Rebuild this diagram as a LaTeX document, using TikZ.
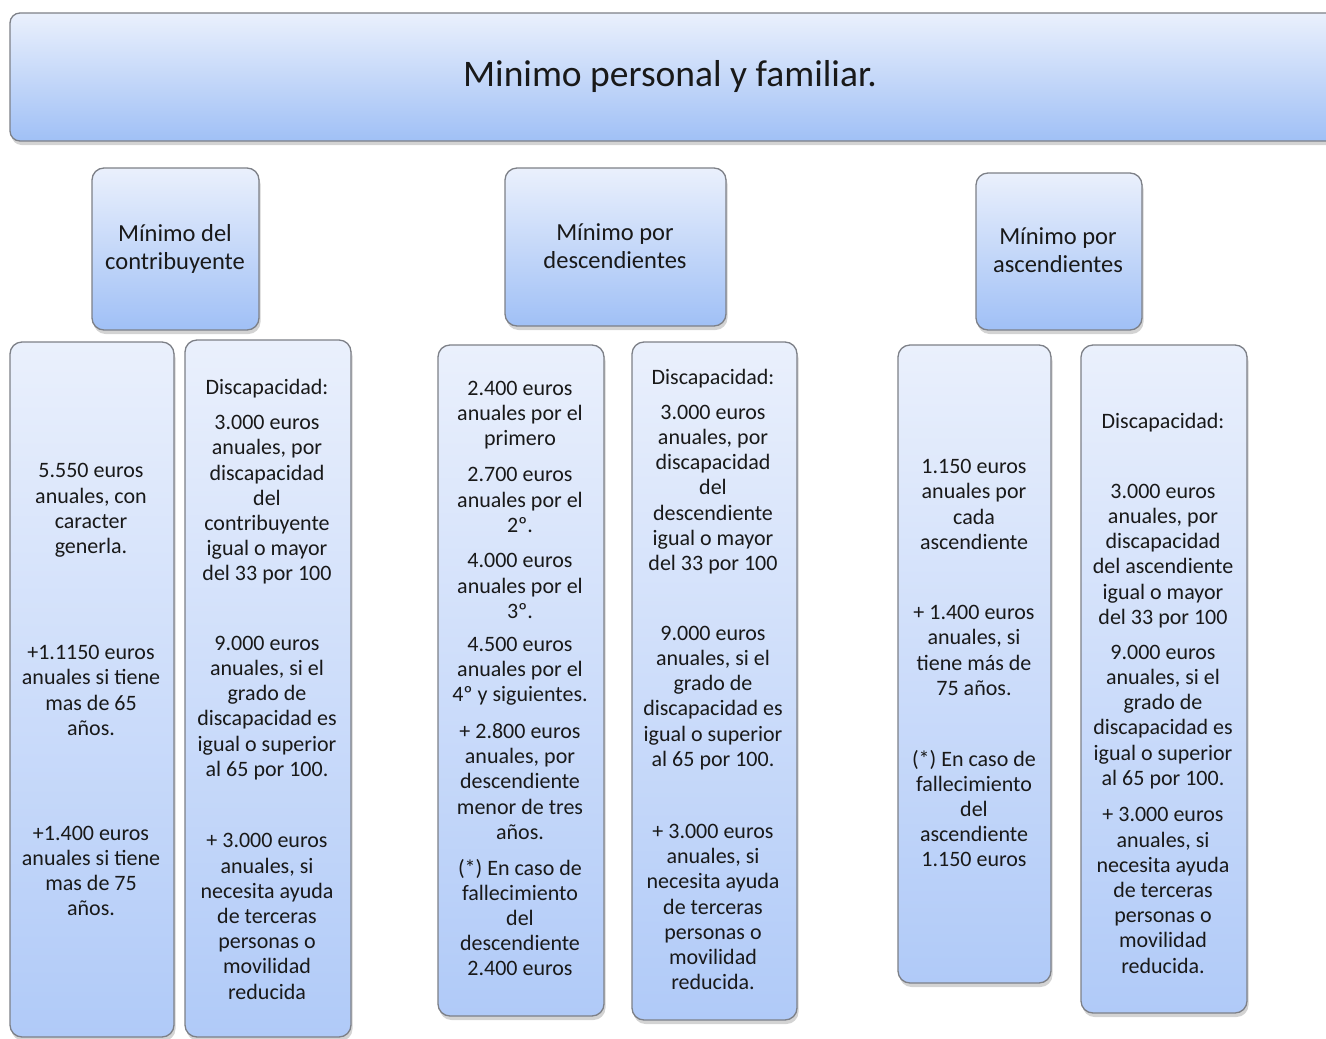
\documentclass[tikz,border=0pt]{standalone}
\usepackage{fontspec}
\setmainfont{Carlito}
\usetikzlibrary{shadows}
\definecolor{boxtop}{RGB}{234,240,252}
\definecolor{boxbot}{RGB}{176,202,248}
\definecolor{hdrbot}{RGB}{160,192,246}
\definecolor{edge}{RGB}{125,128,135}
\definecolor{ink}{RGB}{25,25,25}
\tikzset{
  panel/.style={draw=edge, line width=1.3pt, rounded corners=12pt, top color=boxtop, bottom color=boxbot,
     drop shadow={opacity=0.35, shadow xshift=1.5pt, shadow yshift=-4pt}, inner sep=0pt},
  hdr/.style={panel, bottom color=hdrbot},
  body/.style={text=ink, align=center, inner sep=0pt, font=\fontsize{22}{25.2}\selectfont},
  hdrtxt/.style={text=ink, align=center, inner sep=0pt, font=\fontsize{24.5}{28}\selectfont},
}
\begin{document}
\begin{tikzpicture}[x=1pt,y=-1pt]
\useasboundingbox (0,0) rectangle (1326,1039);
\clip (0,0) rectangle (1326,1039);
% title
\node[hdr, rounded corners=10pt, minimum width=1335, minimum height=128] (title) at (677.5,77) {};
\node[text=ink, font=\fontsize{37.5}{44}\selectfont] (titletxt) at (670,76) {Minimo personal y familiar.};
% headers
\node[hdr, minimum width=167, minimum height=162] (h1) at (175.5,249) {};
\node[hdr, minimum width=221, minimum height=158] (h2) at (615.5,247) {};
\node[hdr, minimum width=166, minimum height=157] (h3) at (1059,251.5) {};
\node[hdrtxt] (h1t) at (175,249) {Mínimo del\\contribuyente};
\node[hdrtxt] (h2t) at (615,246) {Mínimo por\\descendientes};
\node[hdrtxt] (h3t) at (1058,250.5) {Mínimo por\\ascendientes};
% body boxes
\node[panel, minimum width=164, minimum height=695] (b1) at (92,689.5) {};
\node[panel, minimum width=166, minimum height=697] (b2) at (268,688.5) {};
\node[panel, minimum width=166, minimum height=671] (b3) at (521,680.5) {};
\node[panel, minimum width=165, minimum height=678] (b4) at (714.5,681) {};
\node[panel, minimum width=153, minimum height=638] (b5) at (974.5,664) {};
\node[panel, minimum width=166, minimum height=668] (b6) at (1164,679) {};
% box 1
\node[body] (b1p1) at (91,510.5) {5.550 euros\\anuales, con\\caracter\\generla.};
\node[body] (b1p2) at (91,690.5) {+1.1150 euros\\anuales si tiene\\mas de 65\\años.};
\node[body] (b1p3) at (91,871) {+1.400 euros\\anuales si tiene\\mas de 75\\años.};
% box 2
\node[body] (b2p0) at (267,389) {Discapacidad:};
\node[body] (b2p1) at (267,500) {3.000 euros\\anuales, por\\discapacidad\\del\\contribuyente\\igual o mayor\\del 33 por 100};
\node[body] (b2p2) at (267,708) {9.000 euros\\anuales, si el\\grado de\\discapacidad es\\igual o superior\\al 65 por 100.};
\node[body] (b2p3) at (267,916.5) {+ 3.000 euros\\anuales, si\\necesita ayuda\\de terceras\\personas o\\movilidad\\reducida};
% box 3
\node[body] (b3p1) at (520,415) {2.400 euros\\anuales por el\\primero};
\node[body] (b3p2) at (520,500) {2.700 euros\\anuales por el\\2º.};
\node[body] (b3p3) at (520,586) {4.000 euros\\anuales por el\\3º.};
\node[body] (b3p4) at (520,671) {4.500 euros\\anuales por el\\4º y siguientes.};
\node[body] (b3p5) at (520,781.5) {+ 2.800 euros\\anuales, por\\descendiente\\menor de tres\\años.};
\node[body] (b3p6) at (520,917.5) {(*) En caso de\\fallecimiento\\del\\descendiente\\2.400 euros};
% box 4
\node[body] (b4p0) at (713,379) {Discapacidad:};
\node[body] (b4p1) at (713,489.5) {3.000 euros\\anuales, por\\discapacidad\\del\\descendiente\\igual o mayor\\del 33 por 100};
\node[body] (b4p2) at (713,698) {9.000 euros\\anuales, si el\\grado de\\discapacidad es\\igual o superior\\al 65 por 100.};
\node[body] (b4p3) at (713,907) {+ 3.000 euros\\anuales, si\\necesita ayuda\\de terceras\\personas o\\movilidad\\reducida.};
% box 5
\node[body] (b5p1) at (974,504.5) {1.150 euros\\anuales por\\cada\\ascendiente};
\node[body] (b5p2) at (974,650.5) {+ 1.400 euros\\anuales, si\\tiene más de\\75 años.};
\node[body] (b5p3) at (974,808.5) {(*) En caso de\\fallecimiento\\del\\ascendiente\\1.150 euros};
% box 6
\node[body] (b6p0) at (1163,423) {Discapacidad:};
\node[body] (b6p1) at (1163,556) {3.000 euros\\anuales, por\\discapacidad\\del ascendiente\\igual o mayor\\del 33 por 100};
\node[body] (b6p2) at (1163,717) {9.000 euros\\anuales, si el\\grado de\\discapacidad es\\igual o superior\\al 65 por 100.};
\node[body] (b6p3) at (1163,890.5) {+ 3.000 euros\\anuales, si\\necesita ayuda\\de terceras\\personas o\\movilidad\\reducida.};
\end{tikzpicture}
\end{document}
